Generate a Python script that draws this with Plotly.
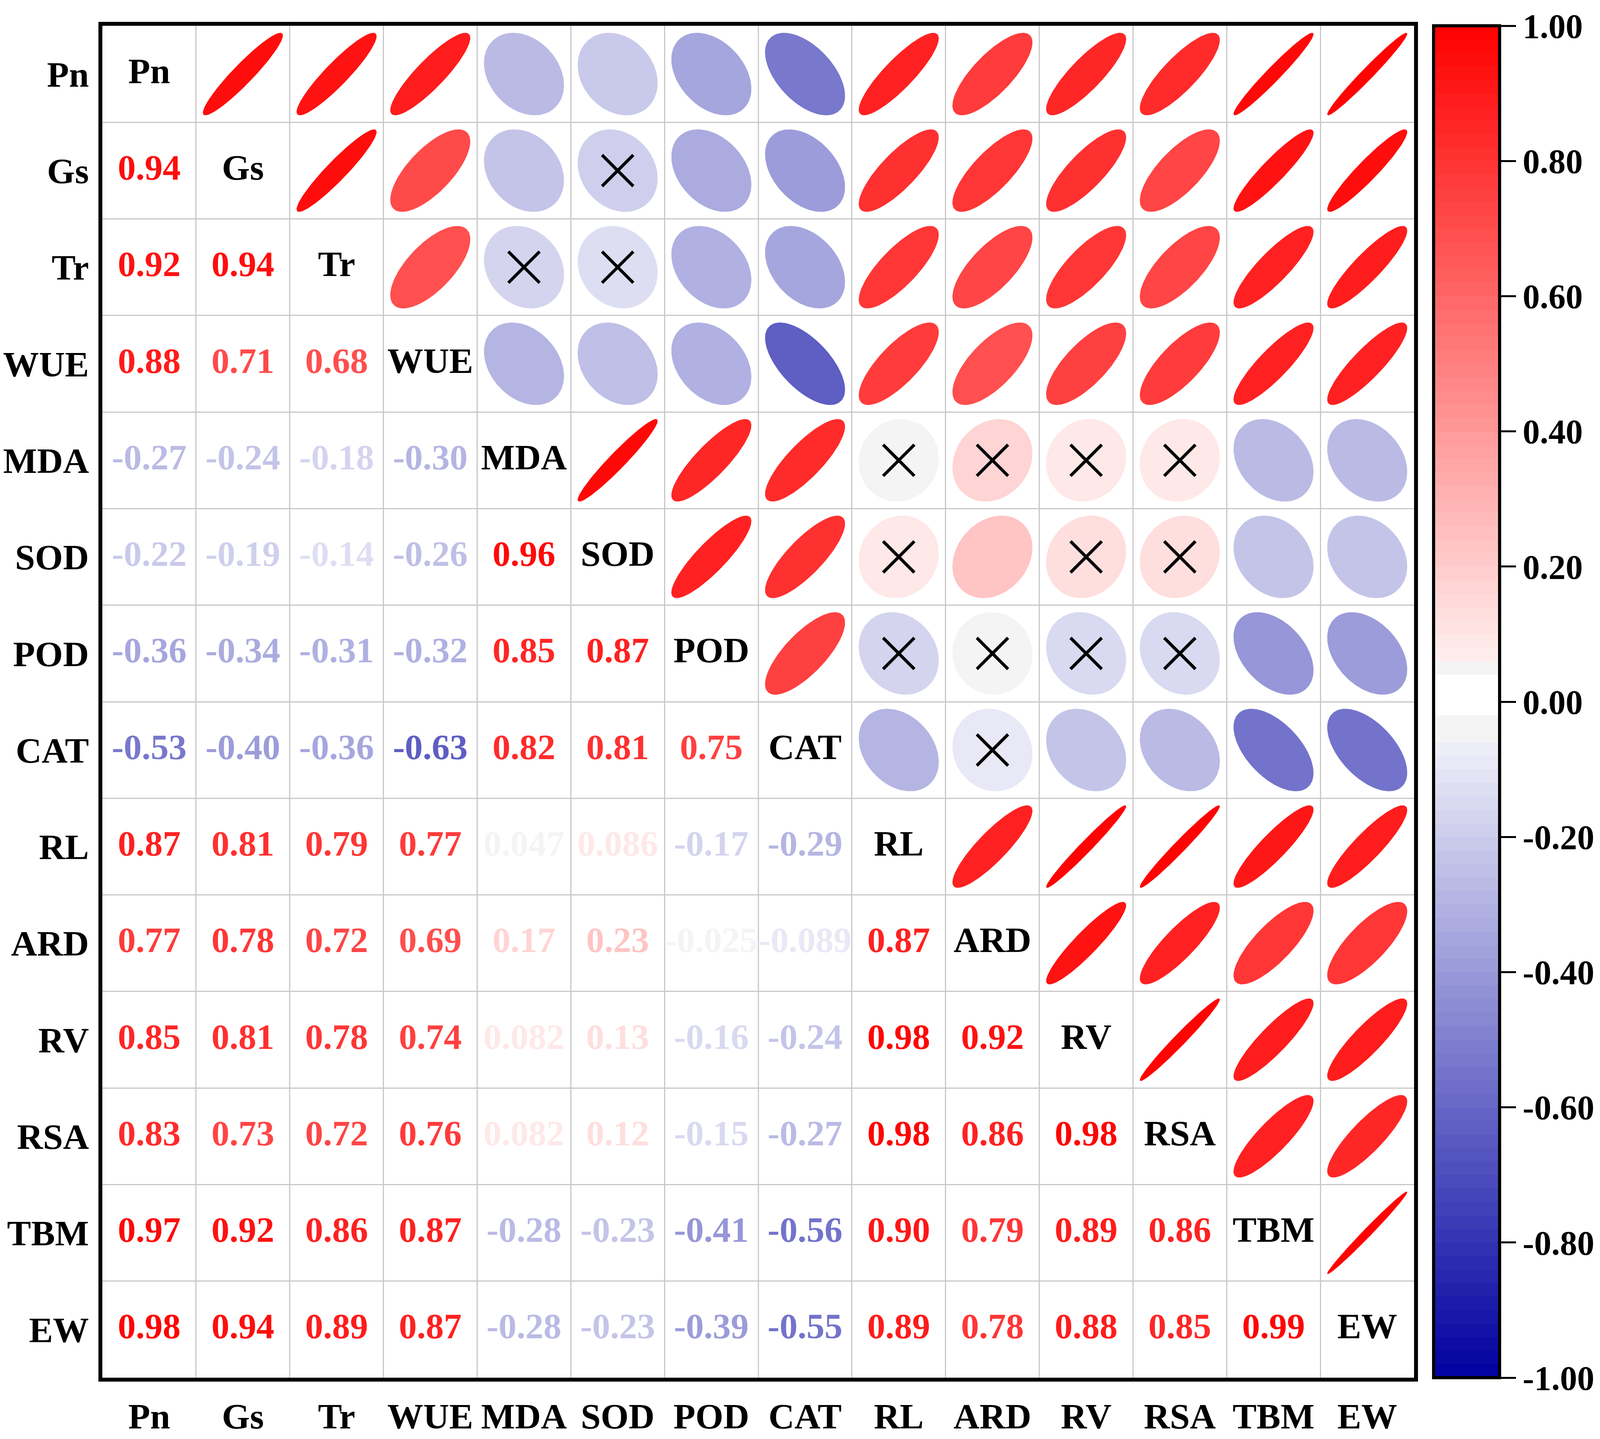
import numpy as np
import plotly.graph_objects as go

# ---------------- data ----------------
variables = ["Pn", "Gs", "Tr", "WUE", "MDA", "SOD", "POD", "CAT",
             "RL", "ARD", "RV", "RSA", "TBM", "EW"]

# lower-triangle correlation rows (row variable vs. earlier variables)
r_Pn = []
r_Gs = [0.94]
r_Tr = [0.92, 0.94]
r_WUE = [0.88, 0.71, 0.68]
r_MDA = [-0.27, -0.24, -0.18, -0.30]
r_SOD = [-0.22, -0.19, -0.14, -0.26, 0.96]
r_POD = [-0.36, -0.34, -0.31, -0.32, 0.85, 0.87]
r_CAT = [-0.53, -0.40, -0.36, -0.63, 0.82, 0.81, 0.75]
r_RL = [0.87, 0.81, 0.79, 0.77, 0.047, 0.086, -0.17, -0.29]
r_ARD = [0.77, 0.78, 0.72, 0.69, 0.17, 0.23, -0.025, -0.089, 0.87]
r_RV = [0.85, 0.81, 0.78, 0.74, 0.082, 0.13, -0.16, -0.24, 0.98, 0.92]
r_RSA = [0.83, 0.73, 0.72, 0.76, 0.082, 0.12, -0.15, -0.27, 0.98, 0.86, 0.98]
r_TBM = [0.97, 0.92, 0.86, 0.87, -0.28, -0.23, -0.41, -0.56, 0.90, 0.79, 0.89, 0.86]
r_EW = [0.98, 0.94, 0.89, 0.87, -0.28, -0.23, -0.39, -0.55, 0.89, 0.78, 0.88, 0.85, 0.99]

# non-significant pairs (marked with a cross in the upper triangle)
nonsig_pairs = [("Gs", "SOD"), ("Tr", "MDA"), ("Tr", "SOD"),
                ("MDA", "RL"), ("MDA", "ARD"), ("MDA", "RV"), ("MDA", "RSA"),
                ("SOD", "RL"), ("SOD", "RV"), ("SOD", "RSA"),
                ("POD", "RL"), ("POD", "ARD"), ("POD", "RV"), ("POD", "RSA"),
                ("CAT", "ARD")]

colorbar_ticks = [1.0, 0.8, 0.6, 0.4, 0.2, 0.0, -0.2, -0.4, -0.6, -0.8, -1.0]

# ---------------- helpers ----------------
lower_rows = [r_Pn, r_Gs, r_Tr, r_WUE, r_MDA, r_SOD, r_POD, r_CAT,
              r_RL, r_ARD, r_RV, r_RSA, r_TBM, r_EW]
n = len(variables)
R = np.eye(n)
for i, row in enumerate(lower_rows):
    for j, v in enumerate(row):
        R[i, j] = v
        R[j, i] = v

NEG_END = (0, 0, 160)
N_BANDS = 100


def band_color(k):
    c = -1 + 0.02 * k + 0.01
    if k in (49, 50, 51):
        return "rgb(255,255,255)"
    if k in (47, 48, 52):
        return "rgb(244,244,244)"
    if c > 0:
        g = round(255 * (1 - c))
        return f"rgb(255,{g},{g})"
    a = -c
    rg = round(255 * (1 - a))
    b = round(255 - a * (255 - NEG_END[2]))
    return f"rgb({rg},{rg},{b})"


def corr_color(v):
    k = int(np.floor((v + 1) / 0.02 + 1e-9))
    k = max(0, min(N_BANDS - 1, k))
    return band_color(k)


def fmt(v):
    return f"{v:.3f}" if abs(v) < 0.1 else f"{v:.2f}"


colorscale = []
for k in range(N_BANDS):
    col = band_color(k)
    colorscale.append([k / N_BANDS, col])
    colorscale.append([(k + 1) / N_BANDS, col])

FONT = "Liberation Serif"
FS = 92

fig = go.Figure()

# ---------------- ellipses (upper triangle) ----------------
t = np.linspace(0, 2 * np.pi, 99)
for i in range(n):
    for j in range(i + 1, n):
        r = R[i, j]
        a = np.arccos(r) / 2
        ex = np.cos(t + a) / 2
        ey = np.cos(t - a) / 2
        col = corr_color(r)
        fig.add_trace(go.Scatter(
            x=(j + 1) + 0.85 * ex, y=(n - i) + 0.85 * ey,
            mode="lines", fill="toself", fillcolor=col,
            line=dict(color=col, width=1), hoverinfo="skip"))

# ---------------- crosses ----------------
cx, cy = [], []
for a_name, b_name in nonsig_pairs:
    i, j = variables.index(a_name), variables.index(b_name)
    cx.append(j + 1)
    cy.append(n - i)
fig.add_trace(go.Scatter(
    x=cx, y=cy, mode="markers", hoverinfo="skip",
    marker=dict(symbol="x-thin", size=80, color="black",
                line=dict(color="black", width=8))))

# ---------------- numbers (lower triangle) ----------------
tx, ty, tt, tc = [], [], [], []
for i in range(n):
    for j in range(i):
        tx.append(j + 1)
        ty.append(n - i)
        tt.append(fmt(R[i, j]))
        tc.append(corr_color(R[i, j]))
fig.add_trace(go.Scatter(
    x=tx, y=ty, text=tt, mode="text", hoverinfo="skip",
    textposition="middle center",
    textfont=dict(family=FONT, size=FS, color=tc, weight="bold")))

# ---------------- diagonal labels ----------------
fig.add_trace(go.Scatter(
    x=[k + 1 for k in range(n)], y=[n - k for k in range(n)], text=variables,
    mode="text", hoverinfo="skip", textposition="middle center",
    textfont=dict(family=FONT, size=FS, color="black", weight="bold")))

# ---------------- colorbar ----------------
fig.add_trace(go.Scatter(
    x=[1], y=[1], mode="markers", hoverinfo="skip",
    marker=dict(size=0.1, opacity=0, color=[0], cmin=-1, cmax=1,
                colorscale=colorscale, showscale=True,
                colorbar=dict(
                    x=1.0149, xanchor="left", y=0.5, yanchor="middle",
                    len=1.0, lenmode="fraction", thickness=169,
                    xpad=0, ypad=0, outlinewidth=8, outlinecolor="black",
                    ticks="outside", ticklen=38, tickwidth=5, tickcolor="black",
                    ticklabeloverflow="allow",
                    tickvals=colorbar_ticks,
                    ticktext=[f"{v:.2f}" for v in colorbar_ticks],
                    tickfont=dict(family=FONT, size=88, color="black", weight="bold")))))

axis_common = dict(
    range=[0.5, n + 0.5], showgrid=False, zeroline=False,
    showline=True, mirror=True, linecolor="black", linewidth=10,
    ticks="", fixedrange=True, automargin=False,
    tickfont=dict(family=FONT, size=FS, color="black", weight="bold"),
    minor=dict(tickmode="array", tickvals=[k + 0.5 for k in range(n + 1)],
               showgrid=True, gridcolor="#C8C8C8", gridwidth=3, ticks=""),
)
fig.update_xaxes(**axis_common, tickmode="array", tickangle=0,
                 tickvals=[k + 1 for k in range(n)], ticktext=variables,
                 ticklabelstandoff=10)
fig.update_yaxes(**axis_common, tickmode="array", tickangle=0,
                 tickvals=[n - k for k in range(n)], ticktext=variables,
                 ticklabelstandoff=6)

fig.update_layout(autosize=True, template="none",
                  margin=dict(l=254, r=484, t=58, b=165, autoexpand=False),
                  plot_bgcolor="white", paper_bgcolor="white",
                  showlegend=False)

fig.write_html("out.html", default_width="100vw", default_height="100vh",
               config={"responsive": True})
